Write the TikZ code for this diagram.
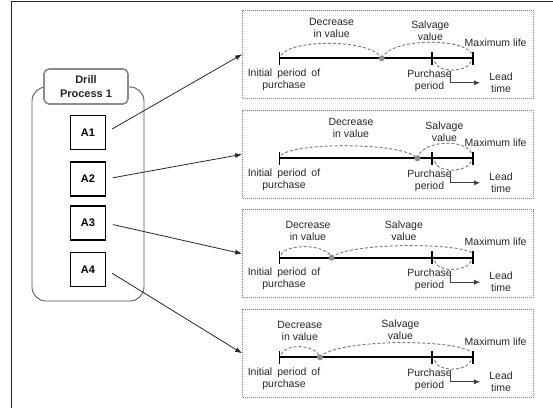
\documentclass[tikz,border=0pt]{standalone}
\usepackage{fontspec}
\setmainfont{Liberation Sans}
\usetikzlibrary{arrows.meta}

\begin{document}
\begin{tikzpicture}[x=1pt,y=-1pt,
  frame/.style={line width=1.3pt, draw=black!85},
  group/.style={draw=black!65, line width=0.9pt, rounded corners=14pt,
    minimum width=112pt, minimum height=214pt, inner sep=0pt},
  tagbox/.style={draw=black!45, line width=1.6pt, fill=white, rounded corners=5pt,
    minimum width=84pt, minimum height=35pt, align=center, inner sep=0pt,
    font=\bfseries\fontsize{11}{14}\selectfont, text=black!85},
  itembox/.style={draw=black, line width=1.5pt, minimum width=34.6pt,
    minimum height=34pt, inner sep=0pt, font=\bfseries\fontsize{11}{13}\selectfont},
  panel/.style={draw=black!50, dash pattern=on 1pt off 1pt, line width=0.8pt,
    minimum width=290.5pt, minimum height=88pt, inner sep=0pt},
  feed/.style={draw=black!85, line width=0.8pt,
    -{Latex[length=7pt,width=5pt]}, shorten <=7pt},
  axisline/.style={line width=1.8pt},
  valuearc/.style={draw=black!50, dash pattern=on 3pt off 2pt, line width=1pt},
  valuedot/.style={circle, fill=black!45, inner sep=0pt, minimum size=6pt},
  lbl/.style={font=\fontsize{10.5}{12}\selectfont, align=center, inner sep=0pt,
    text=black!85},
  leadline/.style={draw=black!75, line width=0.8pt,
    -{Latex[length=6pt,width=5pt]}, shorten >=9pt}
]
\useasboundingbox (0,0) rectangle (553,408);

% outer frame (top and left rules)
\draw[frame] (11.7,408) -- (11.7,1.3) -- (553,1.3);

% process group with its items
\node[group] (grp) at (88,194) {};
\node[tagbox] (tag) at (86,86.5) {Drill\\Process 1};
\node[itembox] (A1) at (88,132.5) {A1};
\node[itembox] (A2) at (88,179) {A2};
\node[itembox] (A3) at (88,223) {A3};
\node[itembox] (A4) at (88,269.5) {A4};

% one time-line panel per item
% index / axis y / dot x / decrease x / decrease offset / salvage x / salvage offset / arc heights
\foreach \i/\L/\dot/\decx/\decy/\salx/\saly/\ha/\hb in {
  1/58.3/381.7/331.6/30.3/430.3/27.8/15/16,
  2/158.3/417.3/351/30.3/444.4/26.7/12.6/15,
  3/257.7/331.6/308/26.4/403.9/26.9/11/12,
  4/357.3/320/299.8/26.2/400.4/27.8/10.6/14.6}{
  \pgfmathsetmacro\Ha{(\ha-0.4)/0.75}
  \pgfmathsetmacro\Hb{(\hb-0.6)/0.75}
  \pgfmathsetmacro\aone{281+0.1*(\dot-281)}
  \pgfmathsetmacro\atwo{\dot-0.1*(\dot-281)}
  \pgfmathsetmacro\bone{\dot+0.1*(471.5-\dot)}
  \pgfmathsetmacro\btwo{471.5-0.1*(471.5-\dot)}

  \node[panel] (p\i) at (387.75,\L-4) {};

  \coordinate (p\i-s) at (279.4,\L);
  \coordinate (p\i-pur) at (431.7,\L);
  \coordinate (p\i-e) at (472.7,\L);

  % value arcs
  \draw[valuearc] (281,\L-3) .. controls (\aone,\L-\Ha) and (\atwo,\L-\Ha) .. (\dot,\L);
  \draw[valuearc] (\dot,\L) .. controls (\bone,\L-\Hb) and (\btwo,\L-\Hb) .. (471.5,\L-5);
  \draw[valuearc] (434.5,\L+3) .. controls (437,\L+15) and (469.5,\L+15) .. (472,\L+1);

  % axis with ticks
  \draw[axisline] (p\i-s) -- (p\i-e);
  \draw[axisline] (279.4,\L-6.5) -- (279.4,\L+6.5);
  \draw[axisline] (431.7,\L-6.5) -- (431.7,\L+6.5);
  \draw[axisline] (472.7,\L-6.5) -- (472.7,\L+6.5);
  \node[valuedot] (p\i-dot) at (\dot,\L) {};

  % labels
  \node[lbl] (p\i-dec) at (\decx,\L-\decy) {Decrease\\in value};
  \node[lbl] (p\i-sal) at (\salx,\L-\saly) {Salvage\\value};
  \node[lbl] (p\i-max) at (495.6,\L-15.6) {Maximum life};
  \node[lbl] (p\i-ini) at (284,\L+21.2) {{\spaceskip=5pt Initial period of}\\purchase};
  \node[lbl] (p\i-pp) at (429.5,\L+22) {Purchase\\period};
  \node[lbl] (p\i-lead) at (501,\L+24.5) {Lead\\time};

  % lead time pointer
  \coordinate (p\i-lt) at (450.5,\L+13);
  \draw[leadline] (p\i-lt) |- (p\i-lead.west);
}

% item to panel connectors
\draw[feed] (A1.east) -- (p1.west);
\draw[feed] (A2.east) -- (p2.west);
\draw[feed] (A3.east) -- (p3.west);
\draw[feed] (A4.east) -- (p4.west);
\end{tikzpicture}
\end{document}
